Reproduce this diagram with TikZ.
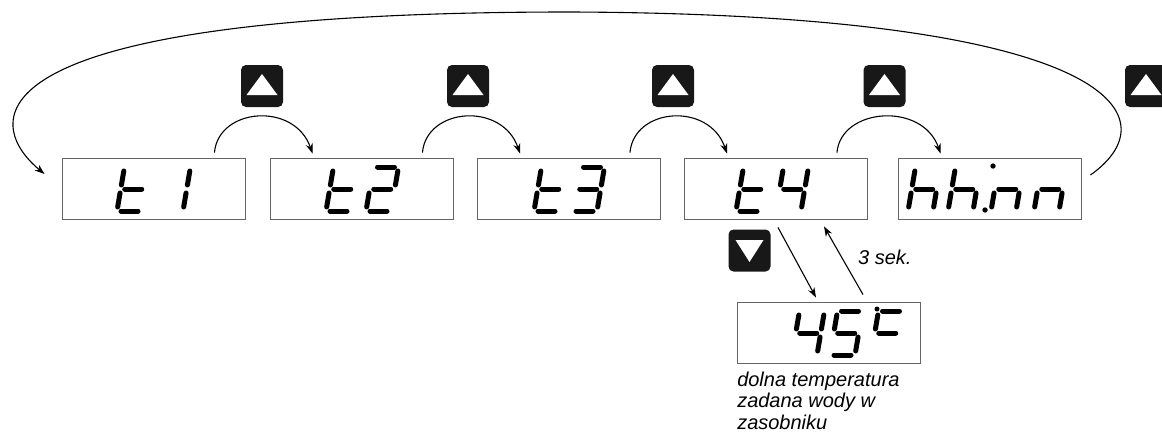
\documentclass[tikz,border=0pt]{standalone}
\usepackage{fontspec}
\setmainfont{Liberation Sans}
\usetikzlibrary{arrows.meta,positioning,calc}
\usepackage{xcolor}
\definecolor{keyblack}{RGB}{24,24,24}
\definecolor{framegray}{RGB}{100,100,100}

% seven segment glyph: segments a..g, origin at bottom left
\tikzset{
  lcdseg/.style={line width=5pt, line cap=round},
  seg a/.code={\draw[lcdseg] (4,-44) -- (21,-44);},
  seg b/.code={\draw[lcdseg] (25,-40) -- (25,-26);},
  seg c/.code={\draw[lcdseg] (25,-18) -- (25,-4);},
  seg d/.code={\draw[lcdseg] (4,0) -- (21,0);},
  seg e/.code={\draw[lcdseg] (0,-18) -- (0,-4);},
  seg f/.code={\draw[lcdseg] (0,-40) -- (0,-26);},
  seg g/.code={\draw[lcdseg] (4,-22) -- (21,-22);}
}
\newcommand{\lcdglyph}[3]{%
  \begin{scope}[shift={(#1,#2)}, xslant=0.17]
    \foreach \s in {#3} {\tikzset{seg \s}}
  \end{scope}}

\begin{document}
\begin{tikzpicture}[x=1pt, y=-1pt,
    display/.style={rectangle, draw=framegray, line width=0.9pt, minimum width=183pt,
                    minimum height=61pt, inner sep=0pt},
    keycap/.style={rectangle, rounded corners=5pt, fill=keyblack, minimum width=42pt,
                   minimum height=42pt, inner sep=0pt},
    arrow/.style={-{Stealth[length=10pt, width=7pt]}, line width=1.1pt},
    notetext/.style={font=\fontsize{20}{21.5}\selectfont\itshape, inner sep=0pt, align=left}
]
\useasboundingbox (0,0) rectangle (1162,434);

% Displays
\node[display] (t1) at (153.5,188.5) {};
\node[display] (t2) at (361.5,188.5) {};
\node[display] (t3) at (569,188.5) {};
\node[display] (t4) at (776,188.5) {};
\node[display] (hhnn) at (989.5,188.5) {};
\node[display] (temp) at (829,332.5) {};

% Display contents
\lcdglyph{117}{211}{f,e,g,d}
\lcdglyph{158}{211}{b,c}
\lcdglyph{326}{211}{f,e,g,d}
\lcdglyph{366}{211}{a,b,g,e,d}
\lcdglyph{534}{211}{f,e,g,d}
\lcdglyph{572}{211}{a,b,g,c,d}
\lcdglyph{736}{211}{f,e,g,d}
\lcdglyph{776}{211}{f,g,b,c}
\lcdglyph{908}{211}{f,e,g,c}
\lcdglyph{948}{211}{f,e,g,c}
\lcdglyph{991}{211}{e,g,c}
\lcdglyph{1034}{211}{e,g,c}
\fill (993,166) circle[radius=2.7pt];
\fill (985,210) circle[radius=2.7pt];
\lcdglyph{792}{355}{f,g,b,c}
\lcdglyph{830}{355}{a,f,g,c,d}
\lcdglyph{871}{355}{a,f,g}
\fill (877,309) circle[radius=2.5pt];

% Keys
\node[keycap] (k1) at (262,86) {};
\node[keycap] (k2) at (468,86) {};
\node[keycap] (k3) at (673,86) {};
\node[keycap] (k4) at (884.5,86) {};
\node[keycap] (k5) at (1146,86) {};
\node[keycap] (kdown) at (749.5,250.5) {};
\foreach \k in {k1,k2,k3,k4,k5}
  \fill[white] ([xshift=-15.5pt,yshift=-9pt]\k.center) -- ([xshift=15.5pt,yshift=-9pt]\k.center)
    -- ([yshift=12pt]\k.center) -- cycle;
\fill[white] ([xshift=-14pt,yshift=10.5pt]kdown.center) -- ([xshift=14pt,yshift=10.5pt]kdown.center)
  -- ([yshift=-11.5pt]kdown.center) -- cycle;

% Arrows
\foreach \a/\b in {t1/t2,t2/t3,t3/t4,t4/hhnn}
  \draw[arrow] ([xshift=-31pt,yshift=5pt]\a.north east) .. controls +(4,-45) and +(-18,-52)
    .. ([xshift=43pt,yshift=4pt]\b.north west);
\coordinate (top) at (570,12);
\draw[arrow] ([xshift=9pt,yshift=13.5pt]hhnn.east) .. controls (1175,115) and (1110,14) .. (top)
  .. controls (-45,12) and (-15,125) .. ([xshift=-17pt,yshift=14.5pt]t1.west);
\draw[arrow] ([xshift=2pt,yshift=-8pt]t4.south) -- ([xshift=-13pt,yshift=4pt]temp.north);
\draw[arrow] ([xshift=34pt,yshift=7pt]temp.north) -- ([xshift=48pt,yshift=-7pt]t4.south);

% Labels
\node[notetext, anchor=west] (delay) at (858,257) {3 sek.};
\node[notetext, anchor=north west] (caption) at ([yshift=-8pt]temp.south west)
  {dolna temperatura\\zadana wody w\\zasobniku};

\end{tikzpicture}
\end{document}
